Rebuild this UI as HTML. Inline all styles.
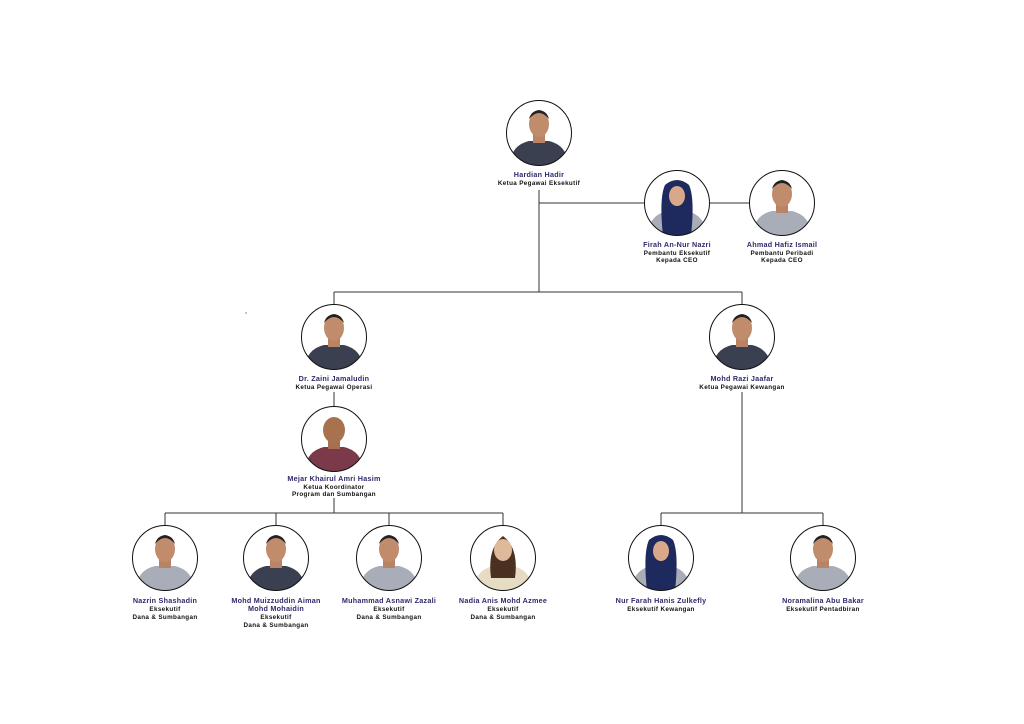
<!DOCTYPE html>
<html><head><meta charset="utf-8"><style>
html,body{margin:0;padding:0;background:#fff;}
svg{display:block}
text{font-family:"Liberation Sans",sans-serif;font-weight:bold;text-anchor:middle;}
.n{fill:#2e2a6b;font-size:7.2px;letter-spacing:0.25px}
.t{fill:#111;font-size:6.3px;letter-spacing:0.35px}
.l{stroke:#333;stroke-width:1;fill:none}
</style></head><body>
<svg width="1024" height="724" viewBox="0 0 1024 724">
<defs>
<clipPath id="c"><circle cx="0" cy="0" r="32.5"/></clipPath>
<g id="pd"><g clip-path="url(#c)"><rect x="-33" y="-33" width="66" height="66" fill="#fff"/><path d="M-30 33 Q-28 12 -10 8 L10 8 Q28 12 30 33Z" fill="#3a4050"/><rect x="-6" y="0" width="12" height="10" fill="#b98466"/><ellipse cx="0" cy="-9" rx="10" ry="13" fill="#c08c6c"/><path d="M-10 -14 Q0 -26 10 -14 Q8 -22 0 -23 Q-8 -22 -10 -14Z" fill="#222"/></g><circle r="32.5" fill="none" stroke="#111" stroke-width="1"/></g>
<g id="pg"><g clip-path="url(#c)"><rect x="-33" y="-33" width="66" height="66" fill="#fff"/><path d="M-30 33 Q-28 12 -10 8 L10 8 Q28 12 30 33Z" fill="#a8adb8"/><rect x="-6" y="0" width="12" height="10" fill="#b98466"/><ellipse cx="0" cy="-9" rx="10" ry="13" fill="#c08c6c"/><path d="M-10 -14 Q0 -26 10 -14 Q8 -22 0 -23 Q-8 -22 -10 -14Z" fill="#222"/></g><circle r="32.5" fill="none" stroke="#111" stroke-width="1"/></g>
<g id="ph"><g clip-path="url(#c)"><rect x="-33" y="-33" width="66" height="66" fill="#fff"/><path d="M-30 33 Q-28 12 -10 8 L10 8 Q28 12 30 33Z" fill="#a8adb8"/><path d="M-14 33 Q-18 -5 -12 -18 Q0 -28 12 -18 Q18 -5 14 33Z" fill="#1e2a5e"/><ellipse cx="0" cy="-7" rx="8" ry="10" fill="#d9a88a"/></g><circle r="32.5" fill="none" stroke="#111" stroke-width="1"/></g>
<g id="pm"><g clip-path="url(#c)"><rect x="-33" y="-33" width="66" height="66" fill="#fff"/><path d="M-30 33 Q-28 12 -10 8 L10 8 Q28 12 30 33Z" fill="#7a3a4a"/><rect x="-6" y="0" width="12" height="10" fill="#a86e50"/><ellipse cx="0" cy="-9" rx="11" ry="13" fill="#a8724f"/></g><circle r="32.5" fill="none" stroke="#111" stroke-width="1"/></g>
<g id="pw"><g clip-path="url(#c)"><rect x="-33" y="-33" width="66" height="66" fill="#fff"/><path d="M-30 33 Q-28 12 -10 8 L10 8 Q28 12 30 33Z" fill="#e6dcc4"/><path d="M-12 20 Q-16 -10 0 -22 Q16 -10 12 20Z" fill="#4a3020"/><ellipse cx="0" cy="-8" rx="9" ry="11" fill="#e0b89a"/></g><circle r="32.5" fill="none" stroke="#111" stroke-width="1"/></g>
</defs>

<path class="l" d="M539 190V292M539 203H644M710 203H749M334 292H742M334 292V304M742 292V304M334 392V406M334 498V513M165 513H503M165 513V525M276 513V525M389 513V525M503 513V525M742 392V513M661 513H823M661 513V525M823 513V525"/>
<circle cx="246" cy="313" r="0.6" fill="#333"/>

<use href="#pd" x="539" y="133"/>
<text class="n" x="539" y="177">Hardian Hadir</text>
<text class="t" x="539" y="185">Ketua Pegawai Eksekutif</text>

<use href="#ph" x="677" y="203"/>
<text class="n" x="677" y="247">Firah An-Nur Nazri</text>
<text class="t" x="677" y="255">Pembantu Eksekutif</text>
<text class="t" x="677" y="262">Kepada CEO</text>

<use href="#pg" x="782" y="203"/>
<text class="n" x="782" y="247">Ahmad Hafiz Ismail</text>
<text class="t" x="782" y="255">Pembantu Peribadi</text>
<text class="t" x="782" y="262">Kepada CEO</text>

<use href="#pd" x="334" y="337"/>
<text class="n" x="334" y="381">Dr. Zaini Jamaludin</text>
<text class="t" x="334" y="389">Ketua Pegawai Operasi</text>

<use href="#pd" x="742" y="337"/>
<text class="n" x="742" y="381">Mohd Razi Jaafar</text>
<text class="t" x="742" y="389">Ketua Pegawai Kewangan</text>

<use href="#pm" x="334" y="439"/>
<text class="n" x="334" y="481">Mejar Khairul Amri Hasim</text>
<text class="t" x="334" y="489">Ketua Koordinator</text>
<text class="t" x="334" y="496">Program dan Sumbangan</text>

<use href="#pg" x="165" y="558"/>
<text class="n" x="165" y="603">Nazrin Shashadin</text>
<text class="t" x="165" y="611">Eksekutif</text>
<text class="t" x="165" y="619">Dana &amp; Sumbangan</text>

<use href="#pd" x="276" y="558"/>
<text class="n" x="276" y="603">Mohd Muizzuddin Aiman</text>
<text class="n" x="276" y="611">Mohd Mohaidin</text>
<text class="t" x="276" y="619">Eksekutif</text>
<text class="t" x="276" y="627">Dana &amp; Sumbangan</text>

<use href="#pg" x="389" y="558"/>
<text class="n" x="389" y="603">Muhammad Asnawi Zazali</text>
<text class="t" x="389" y="611">Eksekutif</text>
<text class="t" x="389" y="619">Dana &amp; Sumbangan</text>

<use href="#pw" x="503" y="558"/>
<text class="n" x="503" y="603">Nadia Anis Mohd Azmee</text>
<text class="t" x="503" y="611">Eksekutif</text>
<text class="t" x="503" y="619">Dana &amp; Sumbangan</text>

<use href="#ph" x="661" y="558"/>
<text class="n" x="661" y="603">Nur Farah Hanis Zulkefly</text>
<text class="t" x="661" y="611">Eksekutif Kewangan</text>

<use href="#pg" x="823" y="558"/>
<text class="n" x="823" y="603">Noramalina Abu Bakar</text>
<text class="t" x="823" y="611">Eksekutif Pentadbiran</text>
</svg>
</body></html>
